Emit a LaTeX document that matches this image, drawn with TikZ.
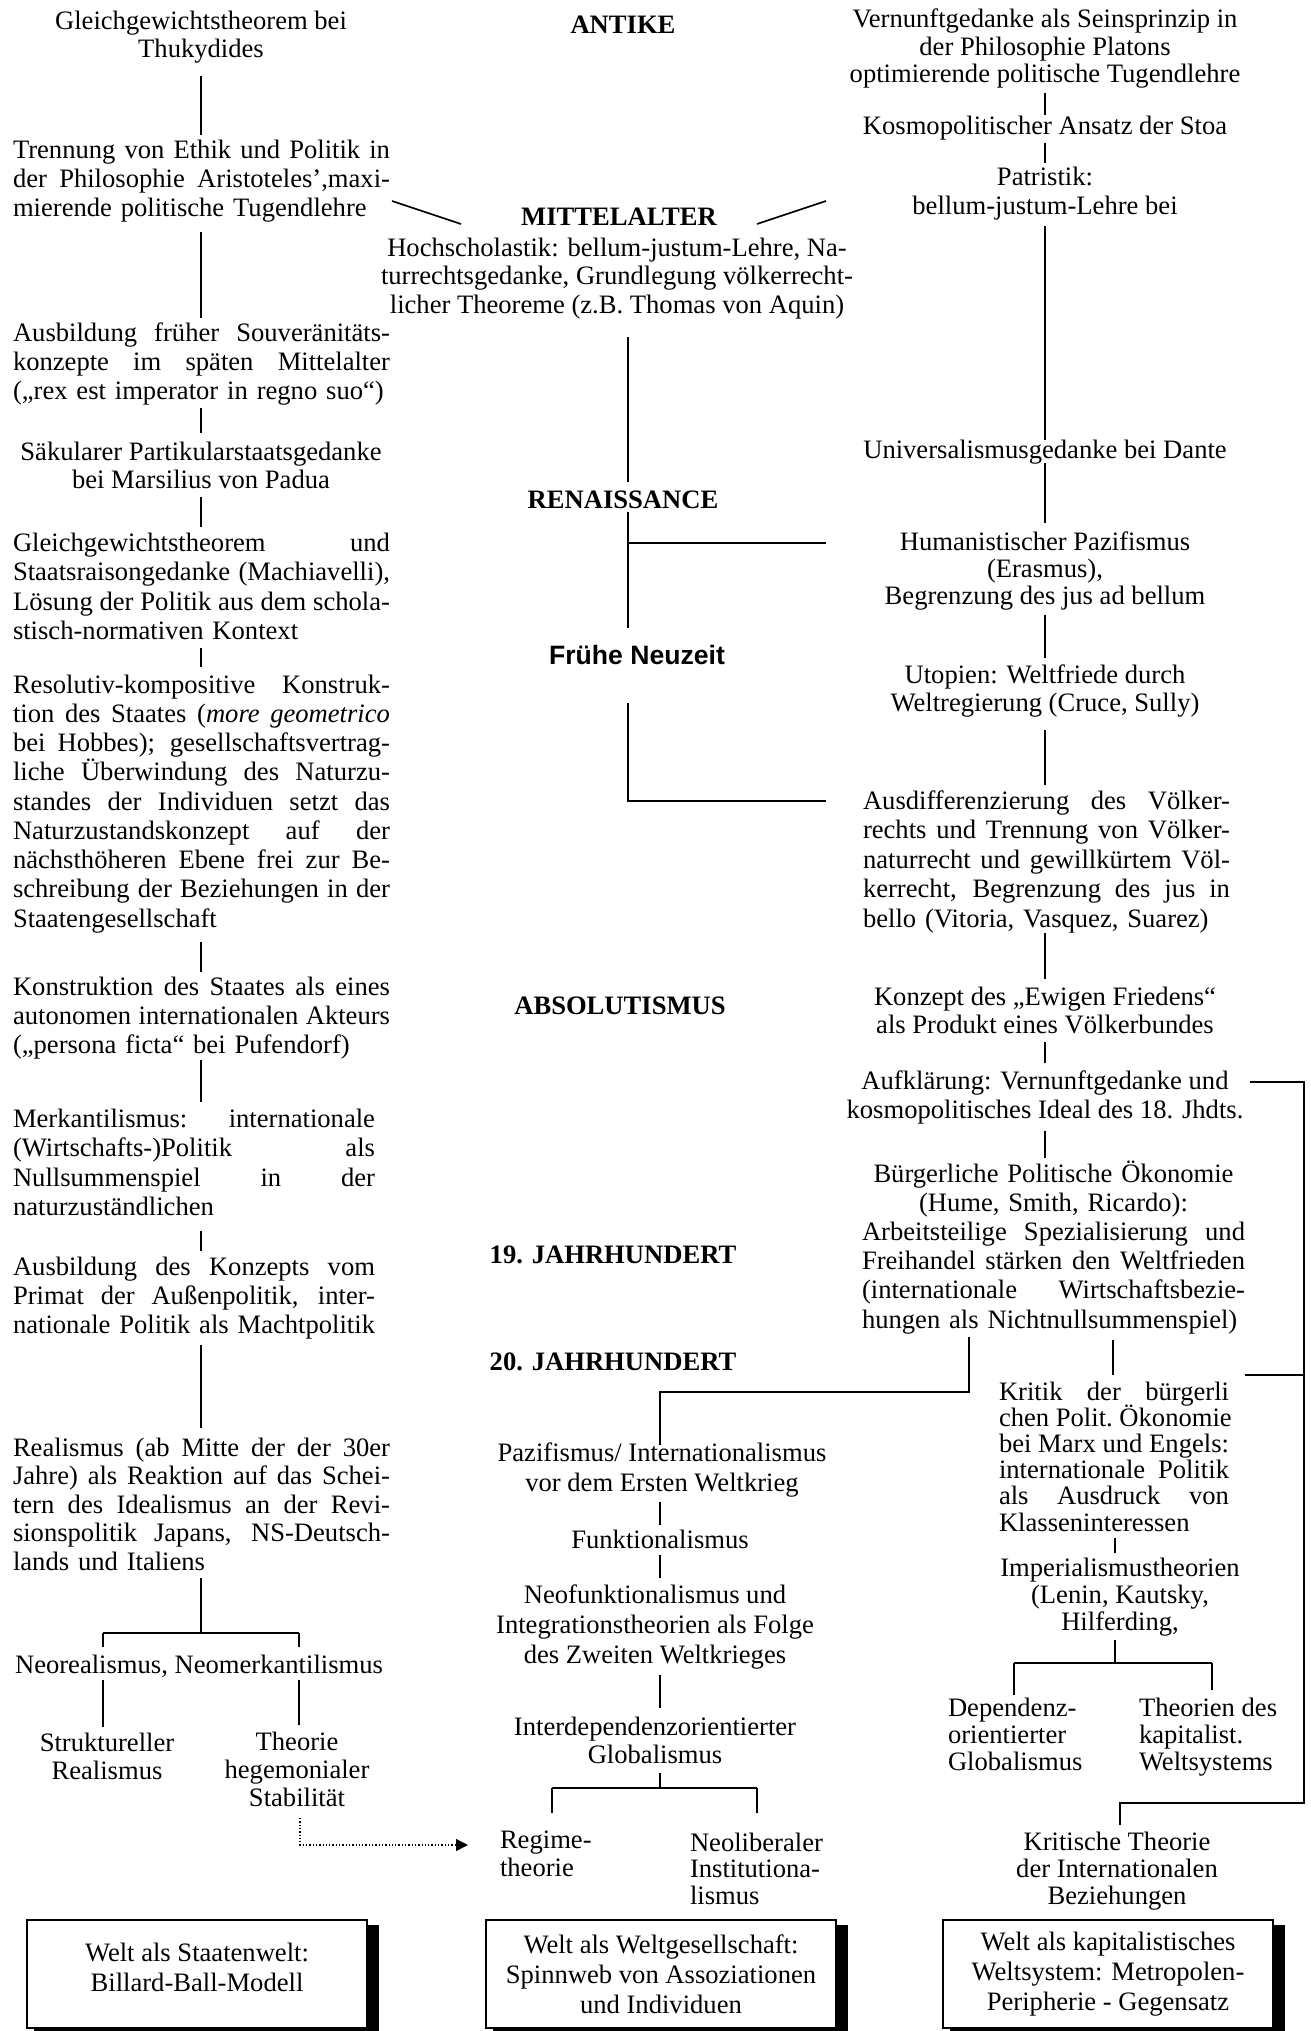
\documentclass[tikz,border=0pt]{standalone}
\usepackage{fontspec}
\setmainfont{Liberation Serif}
\setsansfont{Liberation Sans}
\usetikzlibrary{arrows.meta,calc}
\newcommand\fz[1]{\fontsize{26.6pt}{#1pt}\selectfont\lineskiplimit=-100pt\lineskip=0pt\spaceskip=0pt\xspaceskip=0pt\relax}
\newcommand\sr{\rule{0pt}{24pt}}
\newcommand\J[1]{\makebox[\hsize][s]{\spaceskip=0.25em plus 1fil\xspaceskip=0.25em plus 1fil\relax #1}\newline}
\newcommand\C[1]{\makebox[\hsize][c]{#1}\newline}
\newcommand\E[1]{\makebox[\hsize][l]{#1}}
\tikzset{
  ctr/.style={anchor=north,inner sep=0pt,outer sep=0pt,align=center,font=\fz{#1}},
  ctr/.default=29,
  blk/.style 2 args={anchor=north west,inner sep=0pt,outer sep=0pt,text width=#1pt,font=\fz{#2}},
  lft/.style={anchor=north west,inner sep=0pt,outer sep=0pt,align=left,font=\fz{#1}},
  lft/.default=27,
  era/.style={inner sep=0pt,font=\fz{29}\bfseries},
  sfera/.style={inner sep=0pt,font=\fz{29}\sffamily\bfseries},
  lnk/.style={line width=1.6pt},
  bbar/.style={line width=2.6pt},
  wbox/.style={draw,line width=1.3pt,inner sep=0pt,align=center,font=\fz{30}},
}
\begin{document}
\begin{tikzpicture}[x=1pt,y=-1pt]
\useasboundingbox (0,0) rectangle (1311,2031);
% ---------------- left column
\node[ctr=28] (L1) at (201,6) {\sr Gleichgewichtstheorem bei\\Thukydides};
\node[blk={377}{29}] (L2) at (13,134) {\sr\J{Trennung von Ethik und Politik in}\J{der Philosophie Aristoteles’,maxi-}\E{mierende politische Tugendlehre}};
\node[blk={377}{29}] (L3) at (13,317) {\sr\J{Ausbildung früher Souveränitäts-}\J{konzepte im späten Mittelalter}\E{(„rex est imperator in regno suo“)}};
\node[ctr=28] (L4) at (201,436) {\sr Säkularer Partikularstaatsgedanke\\bei Marsilius von Padua};
\node[blk={377}{29.5}] (L5) at (13,527) {\sr\J{Gleichgewichtstheorem und}\J{Staatsraisongedanke (Machiavelli),}\J{Lösung der Politik aus dem schola-}\E{stisch-normativen Kontext}};
\node[blk={377}{29.25}] (L6) at (13,669) {\sr\J{Resolutiv-kompositive Konstruk-}\J{tion des Staates (\textit{more geometrico}}\J{bei Hobbes); gesellschaftsvertrag-}\J{liche Überwindung des Naturzu-}\J{standes der Individuen setzt das}\J{Naturzustandskonzept auf der}\J{nächsthöheren Ebene frei zur Be-}\J{schreibung der Beziehungen in der}\E{Staatengesellschaft}};
\node[blk={377}{29}] (L7) at (13,971) {\sr\J{Konstruktion des Staates als eines}\J{autonomen internationalen Akteurs}\E{(„persona ficta“ bei Pufendorf)}};
\node[blk={362}{29.5}] (L8) at (13,1103) {\sr\J{Merkantilismus: internationale}\J{(Wirtschafts-)Politik als}\J{Nullsummenspiel in der}\E{naturzuständlichen}};
\node[blk={362}{29}] (L9) at (13,1251) {\sr\J{Ausbildung des Konzepts vom}\J{Primat der Außenpolitik, inter-}\E{nationale Politik als Machtpolitik}};
\node[blk={377}{28.5}] (L10) at (13,1432) {\sr\J{Realismus (ab Mitte der der 30er}\J{Jahre) als Reaktion auf das Schei-}\J{tern des Idealismus an der Revi-}\J{sionspolitik Japans, NS-Deutsch-}\E{lands und Italiens}};
\node[ctr] (L11) at (199,1649) {\sr Neorealismus, Neomerkantilismus};
\node[ctr=28] (L12) at (107,1727) {\sr Struktureller\\Realismus};
\node[ctr=28] (L13) at (297,1726) {\sr Theorie\\hegemonialer\\Stabilität};
% ---------------- middle column
\node[era] (ANT) at (623,25) {ANTIKE};
\node[era] (MIT) at (619,217) {MITTELALTER};
\node[ctr=28.5] (M1) at (617,232) {\sr Hochscholastik: bellum-justum-Lehre, Na-\\turrechtsgedanke, Grundlegung völkerrecht-\\licher Theoreme (z.B. Thomas von Aquin)};
\node[era] (REN) at (623,500) {RENAISSANCE};
\node[sfera] (FN) at (637,655) {Frühe Neuzeit};
\node[era] (ABS) at (620,1006) {ABSOLUTISMUS};
\node[era] (J19) at (613,1255) {19. JAHRHUNDERT};
\node[era] (J20) at (613,1362) {20. JAHRHUNDERT};
\node[ctr=30] (M2) at (662,1437) {\sr Pazifismus/ Internationalismus\\vor dem Ersten Weltkrieg};
\node[ctr] (M3) at (660,1524) {\sr Funktionalismus};
\node[ctr=30] (M4) at (655,1579) {\sr Neofunktionalismus und\\Integrationstheorien als Folge\\des Zweiten Weltkrieges};
\node[ctr=28] (M5) at (655,1711) {\sr Interdependenzorientierter\\Globalismus};
\node[lft=28] (M6) at (500,1824) {\sr Regime-\\theorie};
\node[lft=26.5] (M7) at (690,1827) {\sr Neoliberaler\\Institutiona-\\lismus};
% ---------------- right column
\node[ctr=27.5] (R1) at (1045,4) {\sr Vernunftgedanke als Seinsprinzip in\\der Philosophie Platons\\optimierende politische Tugendlehre};
\node[ctr] (R2) at (1045,111) {\sr Kosmopolitischer Ansatz der Stoa};
\node[ctr=29] (R3) at (1045,161) {\sr Patristik:\\bellum-justum-Lehre bei};
\node[ctr] (R4) at (1045,434) {\sr Universalismusgedanke bei Dante};
\node[ctr=27] (R5) at (1045,526) {\sr Humanistischer Pazifismus\\(Erasmus),\\Begrenzung des jus ad bellum};
\node[ctr=28.5] (R6) at (1045,659) {\sr Utopien: Weltfriede durch\\Weltregierung (Cruce, Sully)};
\node[blk={367}{29.5}] (R7) at (863,785) {\sr\J{Ausdifferenzierung des Völker-}\J{rechts und Trennung von Völker-}\J{naturrecht und gewillkürtem Völ-}\J{kerrecht, Begrenzung des jus in}\E{bello (Vitoria, Vasquez, Suarez)}};
\node[ctr=28] (R8) at (1045,981) {\sr Konzept des „Ewigen Friedens“\\als Produkt eines Völkerbundes};
\node[ctr=29] (R9) at (1045,1065) {\sr Aufklärung: Vernunftgedanke und\\kosmopolitisches Ideal des 18. Jhdts.};
\node[blk={383}{29.2}] (R10) at (862,1158) {\sr\C{Bürgerliche Politische Ökonomie}\C{(Hume, Smith, Ricardo):}\J{Arbeitsteilige Spezialisierung und}\J{Freihandel stärken den Weltfrieden}\J{(internationale Wirtschaftsbezie-}\E{hungen als Nichtnullsummenspiel)}};
\node[blk={230}{26.2}] (R11) at (999,1376) {\sr\J{Kritik der bürgerli}\J{chen Polit. Ökonomie}\J{bei Marx und Engels:}\J{internationale Politik}\J{als Ausdruck von}\E{Klasseninteressen}};
\node[ctr=27] (R12) at (1120,1552) {\sr Imperialismustheorien\\(Lenin, Kautsky,\\Hilferding,};
\node[lft=27] (R13) at (948,1692) {\sr Dependenz-\\orientierter\\Globalismus};
\node[lft=27] (R14) at (1139,1692) {\sr Theorien des\\kapitalist.\\Weltsystems};
\node[ctr=27] (R15) at (1117,1826) {\sr Kritische Theorie\\der Internationalen\\Beziehungen};
% ---------------- bottom boxes
\node[wbox,minimum width=340pt,minimum height=108pt] (B1) at (197,1974) {Welt als Staatenwelt:\\Billard-Ball-Modell\rule[-14pt]{0pt}{1pt}};
\node[wbox,minimum width=350pt,minimum height=108pt] (B2) at (661,1974) {Welt als Weltgesellschaft:\\Spinnweb von Assoziationen\\und Individuen};
\node[wbox,minimum width=330pt,minimum height=108pt] (B3) at (1108,1974) {Welt als kapitalistisches\\Weltsystem: Metropolen-\\Peripherie - Gegensatz};
\foreach \b in {B1,B2,B3}{
  \fill ($(\b.north east)+(0,6)$) rectangle ($(\b.south east)+(11,11)$);
  \fill ($(\b.south west)+(8,0)$) rectangle ($(\b.south east)+(11,11)$);
}
% ---------------- coordinates
\coordinate (l1a) at (201,76);   \coordinate (l1b) at (201,135);
\coordinate (l2a) at (201,232);  \coordinate (l2b) at (201,318);
\coordinate (l3a) at (201,408);  \coordinate (l3b) at (201,433);
\coordinate (l4a) at (201,497);  \coordinate (l4b) at (201,527);
\coordinate (l5a) at (201,648);  \coordinate (l5b) at (201,667);
\coordinate (l6a) at (201,942);  \coordinate (l6b) at (201,972);
\coordinate (l7a) at (201,1060); \coordinate (l7b) at (201,1102);
\coordinate (l8a) at (201,1231); \coordinate (l8b) at (201,1251);
\coordinate (l9a) at (201,1345); \coordinate (l9b) at (201,1428);
\coordinate (l10a) at (201,1578); \coordinate (l10b) at (201,1633);
\coordinate (lbl) at (103,1633); \coordinate (lbr) at (299,1633);
\coordinate (lbl2) at (103,1647); \coordinate (lbr2) at (299,1647);
\coordinate (lsl1) at (103,1680); \coordinate (lsl2) at (103,1727);
\coordinate (lsr1) at (299,1680); \coordinate (lsr2) at (299,1725);
\coordinate (dg1a) at (392,201); \coordinate (dg1b) at (461,224);
\coordinate (dg2a) at (757,224); \coordinate (dg2b) at (826,201);
\coordinate (dt0) at (300,1818); \coordinate (dt1) at (300,1845); \coordinate (dt2) at (468,1845);
\coordinate (m1) at (628,337); \coordinate (m2) at (628,482);
\coordinate (m3) at (628,512); \coordinate (m4) at (628,628);
\coordinate (m5) at (628,543); \coordinate (m6) at (826,543);
\coordinate (m7) at (628,703); \coordinate (m8) at (628,801); \coordinate (m9) at (826,801);
\coordinate (p1) at (969,1337); \coordinate (p2) at (969,1392); \coordinate (p3) at (660,1392); \coordinate (p4) at (660,1445);
\coordinate (q1) at (660,1502); \coordinate (q2) at (660,1525);
\coordinate (q3) at (660,1555); \coordinate (q4) at (660,1578);
\coordinate (q5) at (660,1675); \coordinate (q6) at (660,1708);
\coordinate (q7) at (660,1773); \coordinate (q8) at (660,1788);
\coordinate (qbl) at (552,1788); \coordinate (qbr) at (757,1788);
\coordinate (qbl2) at (552,1813); \coordinate (qbr2) at (757,1813);
\coordinate (r1a) at (1045,93);   \coordinate (r1b) at (1045,115);
\coordinate (r2a) at (1045,143);  \coordinate (r2b) at (1045,163);
\coordinate (r3a) at (1045,226);  \coordinate (r3b) at (1045,440);
\coordinate (r4a) at (1045,463);  \coordinate (r4b) at (1045,523);
\coordinate (r5a) at (1045,615);  \coordinate (r5b) at (1045,658);
\coordinate (r6a) at (1045,730);  \coordinate (r6b) at (1045,785);
\coordinate (r7a) at (1045,933);  \coordinate (r7b) at (1045,979);
\coordinate (r8a) at (1045,1042); \coordinate (r8b) at (1045,1063);
\coordinate (r9a) at (1045,1131); \coordinate (r9b) at (1045,1158);
\coordinate (k1) at (1250,1082); \coordinate (k2) at (1304,1082); \coordinate (k3) at (1304,1803);
\coordinate (k4) at (1120,1803); \coordinate (k5) at (1120,1825);
\coordinate (k6) at (1245,1375); \coordinate (k7) at (1304,1375);
\coordinate (s1) at (1113,1340); \coordinate (s2) at (1113,1375);
\coordinate (s3) at (1115,1538); \coordinate (s4) at (1115,1553);
\coordinate (s5) at (1115,1640); \coordinate (s6) at (1115,1663);
\coordinate (sbl) at (1014,1663); \coordinate (sbr) at (1212,1663);
\coordinate (sbl2) at (1014,1695); \coordinate (sbr2) at (1212,1690);
% ---------------- connectors
\foreach \a/\b in {l1a/l1b,l2a/l2b,l3a/l3b,l4a/l4b,l5a/l5b,l6a/l6b,l7a/l7b,l8a/l8b,l9a/l9b,l10a/l10b,
  lbl/lbl2,lbr/lbr2,lsl1/lsl2,lsr1/lsr2,dg1a/dg1b,dg2a/dg2b,m1/m2,m3/m4,
  q1/q2,q3/q4,q5/q6,q7/q8,qbl/qbl2,qbr/qbr2,
  r1a/r1b,r2a/r2b,r3a/r3b,r4a/r4b,r5a/r5b,r6a/r6b,r7a/r7b,r8a/r8b,r9a/r9b,
  k6/k7,s1/s2,s3/s4,s5/s6,sbl/sbl2,sbr/sbr2}
  {\draw[lnk] (\a) -- (\b);}
\draw[lnk] (m5) -- (m6);
\draw[lnk] (m7) -- (m8) -- (m9);
\draw[lnk] (p1) -- (p2) -- (p3) -- (p4);
\draw[lnk] (k1) -- (k2) -- (k3) -- (k4) -- (k5);
\draw[bbar] (lbl) -- (lbr);
\draw[bbar] (qbl) -- (qbr);
\draw[bbar] (sbl) -- (sbr);
\draw[dotted,line width=1.3pt,-{Triangle[length=12pt,width=12pt]}] (dt0) -- (dt1) -- (dt2);
\end{tikzpicture}
\end{document}
